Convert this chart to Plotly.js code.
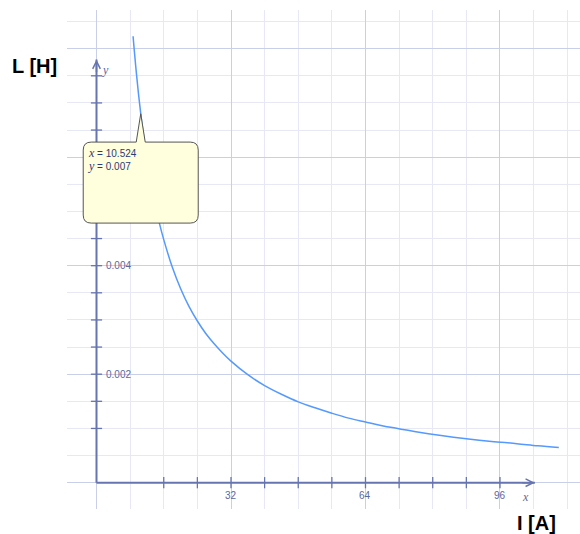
<!DOCTYPE html>
<html>
<head>
<meta charset="utf-8">
<script src="https://cdn.plot.ly/plotly-3.0.1.min.js"></script>
<style>html,body{margin:0;padding:0;background:#fff;}#chart{width:580px;height:534px;}</style>
</head>
<body>
<div id="chart"></div>
<script>
// Curve L(I)
var currentI = [8.7, 9, 9.5, 10, 10.5, 11, 12, 13, 14, 15, 16, 18, 20, 22, 24, 26, 28, 30, 32, 36, 40, 44, 48, 52, 56, 60, 64, 70, 76, 82, 88, 94, 100, 105, 110];
var inductanceL = [0.00823, 0.00796, 0.00754, 0.00716, 0.00682, 0.00651, 0.00597, 0.00551, 0.00511, 0.00477, 0.00448, 0.00398, 0.00358, 0.00325, 0.00298, 0.00275, 0.00256, 0.00239, 0.00224, 0.00199, 0.00179, 0.00163, 0.00149, 0.00138, 0.00128, 0.00119, 0.00112, 0.00102, 0.00094, 0.00087, 0.00081, 0.00076, 0.00072, 0.00068, 0.00065];

// Axis ticks and labels
var xTickVals = [16, 24, 32, 40, 48, 56, 64, 72, 80, 88, 96];
var xLabelVals = [32, 64, 96];
var xLabelText = ["32", "64", "96"];
var yTickVals = [0.001, 0.0015, 0.002, 0.0025, 0.003, 0.0035, 0.004, 0.0045, 0.005, 0.0055, 0.006, 0.0065, 0.007, 0.0075];
var yLabelVals = [0.002, 0.004];
var yLabelText = ["0.002", "0.004"];
var axisXEnd = 104.3;
var axisYEnd = 0.0078;

// Tooltip
var tipX = 10.524;
var tipY = 0.0068;
var tipText = ["x = 10.524", "y = 0.007"];

var axisColor = "#6674b0";
var labelColor = "#5a68a0";

var traces = [
  {x: currentI, y: inductanceL, mode: "lines", line: {color: "#5599ff", width: 1.5, shape: "spline"}, hoverinfo: "skip"},
  {x: [0, axisXEnd], y: [0, 0], mode: "lines", line: {color: axisColor, width: 2}, hoverinfo: "skip"},
  {x: [0, 0], y: [0, axisYEnd], mode: "lines", line: {color: axisColor, width: 2}, hoverinfo: "skip"},
  {x: xTickVals, y: xTickVals.map(function(){return 0;}), mode: "markers", marker: {symbol: "line-ns-open", size: 8, color: axisColor, line: {color: axisColor, width: 1.3}}, hoverinfo: "skip"},
  {x: yTickVals.map(function(){return 0;}), y: yTickVals, mode: "markers", marker: {symbol: "line-ew-open", size: 8, color: axisColor, line: {color: axisColor, width: 1.3}}, hoverinfo: "skip"}
];

var annotations = [];
xLabelVals.forEach(function(v, i){
  annotations.push({x: v, y: 0, xref: "x", yref: "y", text: xLabelText[i], showarrow: false, yshift: -13, font: {family: "Liberation Sans, Arial", size: 10, color: labelColor}});
});
yLabelVals.forEach(function(v, i){
  annotations.push({x: 0, y: v, xref: "x", yref: "y", text: yLabelText[i], showarrow: false, xanchor: "left", xshift: 7, font: {family: "Liberation Sans, Arial", size: 10, color: labelColor}});
});
// arrowheads
annotations.push({x: axisXEnd, y: 0, xref: "x", yref: "y", ax: -14, ay: 0, text: "", showarrow: true, arrowhead: 5, arrowsize: 1, arrowwidth: 1.5, arrowcolor: axisColor});
annotations.push({x: 0, y: axisYEnd, xref: "x", yref: "y", ax: 0, ay: 14, text: "", showarrow: true, arrowhead: 5, arrowsize: 1, arrowwidth: 1.5, arrowcolor: axisColor});
// axis letter labels
annotations.push({x: axisXEnd, y: 0, xref: "x", yref: "y", text: "<i>x</i>", showarrow: false, xshift: -9, yshift: -14, font: {family: "Liberation Serif, serif", size: 12, color: labelColor}});
annotations.push({x: 0, y: axisYEnd, xref: "x", yref: "y", text: "<i>y</i>", showarrow: false, xshift: 9, yshift: -10, font: {family: "Liberation Serif, serif", size: 12, color: labelColor}});
// tooltip text
annotations.push({
  x: tipX, y: tipY, xref: "x", yref: "y", showarrow: false, xanchor: "left", yanchor: "top",
  xshift: -55, yshift: -30, align: "left",
  text: tipText.map(function(t){ return '<span style="font-family:Liberation Serif;font-style:italic;font-size:12px">' + t.charAt(0) + '</span>' + t.slice(1); }).join("<br>"),
  font: {family: "Liberation Sans, Arial", size: 10, color: "#2c3a7c"}
});
// axis titles
annotations.push({x: -0.0634, y: 0.8878, xref: "paper", yref: "paper", xanchor: "center", yanchor: "middle", text: "<b>L [H]</b>", showarrow: false, font: {family: "Liberation Sans, Arial", size: 20, color: "#000"}});
annotations.push({x: 0.915, y: -0.028, xref: "paper", yref: "paper", xanchor: "center", yanchor: "middle", text: "<b>I [A]</b>", showarrow: false, font: {family: "Liberation Sans, Arial", size: 20, color: "#000"}});

var calloutPath = "M0,0 L4.5,-28.3 L49.5,-28.3 Q57.5,-28.3 57.5,-36.3 L57.5,-101.3 Q57.5,-109.3 49.5,-109.3 L-49.5,-109.3 Q-57.5,-109.3 -57.5,-101.3 L-57.5,-36.3 Q-57.5,-28.3 -49.5,-28.3 L-4.5,-28.3 Z";

var layout = {
  width: 580, height: 534,
  margin: {l: 67, r: 0, t: 10, b: 25},
  paper_bgcolor: "#fff", plot_bgcolor: "#fff",
  showlegend: false,
  hovermode: false,
  xaxis: {range: [-7.02, 115.04], dtick: 32, tick0: 0, showgrid: true, gridcolor: "#c9cfe8", gridwidth: 1,
          minor: {dtick: 8, tick0: 0, showgrid: true, gridcolor: "#e6e9f5", gridwidth: 1},
          showticklabels: false, ticks: "", zeroline: false, showline: false, fixedrange: true},
  yaxis: {range: [-0.000485, 0.008713], dtick: 0.002, tick0: 0, showgrid: true, gridcolor: "#c9cfe8", gridwidth: 1,
          minor: {dtick: 0.0005, tick0: 0, showgrid: true, gridcolor: "#e6e9f5", gridwidth: 1},
          showticklabels: false, ticks: "", zeroline: false, showline: false, fixedrange: true},
  shapes: [{
    type: "path", xref: "x", yref: "y", xsizemode: "pixel", ysizemode: "pixel",
    xanchor: tipX, yanchor: tipY, path: calloutPath,
    fillcolor: "#ffffdd", line: {color: "#555555", width: 1}, layer: "above"
  }],
  annotations: annotations
};

Plotly.newPlot("chart", traces, layout, {displayModeBar: false, staticPlot: true});
</script>
</body>
</html>
